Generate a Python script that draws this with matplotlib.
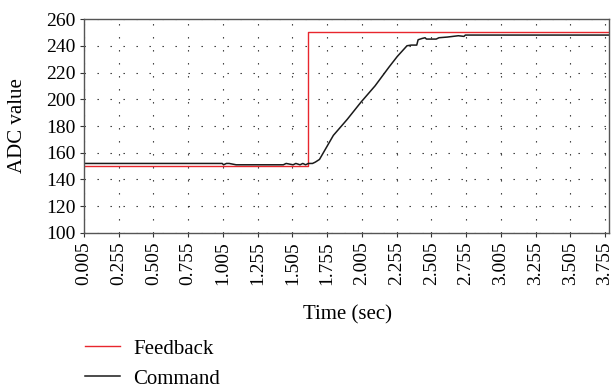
import matplotlib
matplotlib.use("Agg")
import matplotlib.pyplot as plt

# Sampled traces (time in seconds, ADC counts)
feedback_t = [0.005, 1.615, 3.784]
feedback_v = [150, 250, 250]

command_t = [0.005, 1.00, 1.01, 1.03, 1.05, 1.10, 1.12, 1.44, 1.46, 1.51, 1.53,
             1.56, 1.58, 1.60, 1.62, 1.65, 1.67, 1.70, 1.75, 1.80, 1.85, 1.90,
             2.00, 2.10, 2.20, 2.26, 2.33, 2.36, 2.40, 2.41, 2.44, 2.46, 2.47,
             2.54, 2.56, 2.62, 2.66, 2.70, 2.74, 2.75, 3.784]
command_v = [152, 152, 151, 152, 152, 151, 151, 151, 152, 151, 152,
             151, 152, 151, 152, 152, 153, 155, 164, 173, 179, 185,
             198, 210, 224, 232, 240, 240.5, 240.5, 244.5, 245.5, 246, 245,
             245, 246, 246.5, 247, 247.5, 247, 248, 248]

x_ticks = [0.005, 0.255, 0.505, 0.755, 1.005, 1.255, 1.505, 1.755, 2.005,
           2.255, 2.505, 2.755, 3.005, 3.255, 3.505, 3.755]
x_tick_labels = ["0.005", "0.255", "0.505", "0.755", "1.005", "1.255", "1.505",
                 "1.755", "2.005", "2.255", "2.505", "2.755", "3.005", "3.255",
                 "3.505", "3.755"]
y_ticks = [100, 120, 140, 160, 180, 200, 220, 240, 260]

plt.rcParams['font.family'] = ['Liberation Serif', 'DejaVu Serif']

fig = plt.figure(figsize=(6.13, 3.88), dpi=100)
ax = fig.add_axes([0.137, 0.3995, 0.8565, 0.5515])

ax.plot(feedback_t, feedback_v, color='#e8262d', lw=1.0,
        drawstyle='steps-post', label='Feedback')
ax.plot(command_t, command_v, color='#1a1a1a', lw=1.1, label='Command')

ax.set_xlim(0.005, 3.784)
ax.set_ylim(100, 260)
ax.set_xticks(x_ticks)
ax.set_xticklabels(x_tick_labels, rotation=90)
ax.set_yticks(y_ticks)
ax.tick_params(axis='both', labelsize=14, length=3, width=0.8,
               direction='out', color='#333333', pad=3)

ax.grid(True, color='#222222', lw=0.8, linestyle=(0, (1.2, 10.5)))
ax.set_axisbelow(True)
for s in ax.spines.values():
    s.set_color('#555555')
    s.set_linewidth(1.0)

ax.set_xlabel('Time (sec)', fontsize=15)
ax.xaxis.set_label_coords(0.502, -0.383)
ax.xaxis.label.set_va('center')
ax.set_ylabel('ADC value', fontsize=15)
ax.yaxis.set_label_coords(-0.1257, 0.5)
ax.yaxis.label.set_va('center')

fig.legend(loc='upper left', bbox_to_anchor=(85 / 613, 1 - 339 / 388),
           frameon=False, fontsize=15, handlelength=1.7, handletextpad=0.6,
           labelspacing=0.5, borderpad=0, borderaxespad=0)

fig.savefig('out.png', dpi=100)
